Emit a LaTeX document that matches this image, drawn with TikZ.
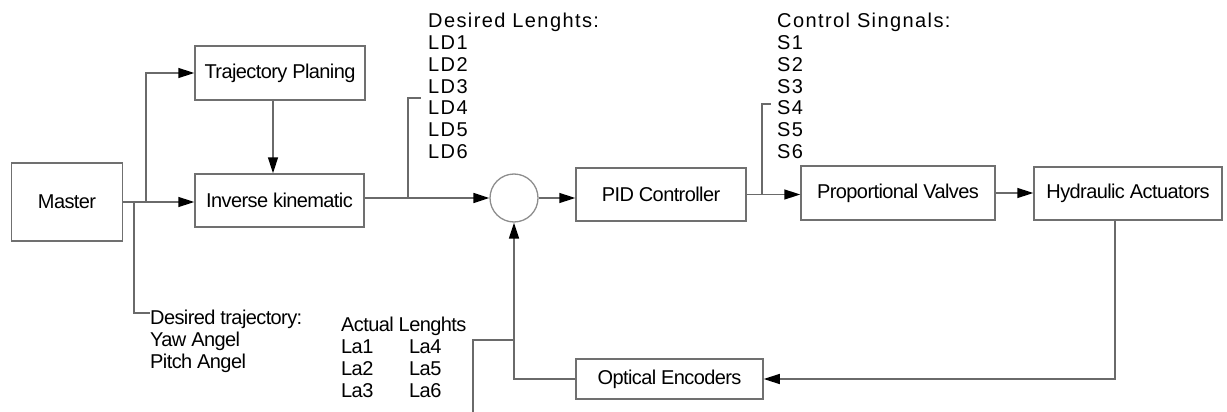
\documentclass[tikz,border=0pt]{standalone}
\usepackage{fontspec}
\usetikzlibrary{arrows.meta}
\newfontfamily\boxfont[LetterSpace=-3]{Liberation Sans}
\newfontfamily\lblfont[LetterSpace=7]{Liberation Sans}
\definecolor{ln}{HTML}{6A6A6A}
\definecolor{bx}{HTML}{707070}
\tikzset{
  box/.style={draw=bx, line width=1.5pt, fill=white, inner sep=0pt,
    font=\boxfont\fontsize{20}{22}\selectfont},
  sumc/.style={circle, draw=bx!80, line width=1.3pt, inner sep=0pt, minimum size=48pt},
  wire/.style={draw=ln, line width=1.5pt},
  arr/.style={wire, -{Triangle[length=16pt,width=10pt,color=black]}},
  btext/.style={inner sep=0pt, anchor=base west, font=\boxfont\fontsize{20}{22}\selectfont},
  ttext/.style={inner sep=0pt, anchor=base west, font=\lblfont\fontsize{20}{22}\selectfont},
}
\begin{document}
\begin{tikzpicture}[x=1pt,y=-1pt]
\useasboundingbox (0,0) rectangle (1227,412);
% blocks
\node[box, minimum width=111pt, minimum height=78pt] (master) at (67,202) {Master};
\node[box, minimum width=170pt, minimum height=54pt] (traj) at (280,73) {Trajectory Planing};
\node[box, minimum width=169pt, minimum height=53pt] (inv) at (279.5,200.5) {Inverse kinematic};
\node[sumc] (sum) at (514,198) {};
\node[box, minimum width=170pt, minimum height=53pt] (pid) at (661,194.5) {PID Controller};
\node[box, minimum width=194pt, minimum height=54pt] (prop) at (898,193) {Proportional Valves};
\node[box, minimum width=188pt, minimum height=53pt] (hyd) at (1128,193.5) {Hydraulic Actuators};
\node[box, minimum width=187pt, minimum height=40pt] (opt) at (669.5,379) {Optical Encoders};
% helper coordinates
\coordinate (m1) at (134,202);
\coordinate (m2) at (146,202);
\coordinate (dt) at (150,313);
\coordinate (ldb) at (408,198);
\coordinate (ldt) at (421,98);
\coordinate (sb) at (762,194.5);
\coordinate (st) at (771,104);
\coordinate (al) at (473,412);
\coordinate (aj) at (514,340);
% connectors
\draw[arr] (master.east) -- (master.east -| inv.west);
\draw[arr] (m2) |- (traj.west);
\draw[wire] (m1) |- (dt);
\draw[arr] ([xshift=-7pt]traj.south) -- ([xshift=-6.5pt]inv.north);
\draw[arr] (inv.east |- sum) -- (sum.west);
\draw[wire] (ldb) |- (ldt);
\draw[arr] (sum.east) -- (sum.east -| pid.west);
\draw[arr] (pid.east) -- (pid.east -| prop.west);
\draw[wire] (sb) |- (st);
\draw[arr] (prop.east) -- (prop.east -| hyd.west);
\draw[arr] ([xshift=-13pt]hyd.south) |- (opt.east);
\draw[arr] (opt.west) -| (sum.south);
\draw[wire] (al) |- (aj);
% top labels
\node[ttext] (dlh) at (428,28) {Desired Lenghts:};
\foreach \i in {1,...,6} \node[ttext] (ld\i) at (428,{28+21.7*\i}) {LD\i};
\node[ttext] (csh) at (777,28) {Control Singnals:};
\foreach \i in {1,...,6} \node[ttext] (s\i) at (777,{28+21.7*\i}) {S\i};
% bottom labels
\node[btext] (dtr) at (150,324) {Desired trajectory:};
\node[btext] (yaw) at (150,346) {Yaw Angel};
\node[btext] (pitch) at (150,368) {Pitch Angel};
\node[btext] (alh) at (341,331) {Actual Lenghts};
\node[btext] (la1) at (341,353) {La1};
\node[btext] (la2) at (341,375) {La2};
\node[btext] (la3) at (341,397) {La3};
\node[btext] (la4) at (409,353) {La4};
\node[btext] (la5) at (409,375) {La5};
\node[btext] (la6) at (409,397) {La6};
\end{tikzpicture}
\end{document}
